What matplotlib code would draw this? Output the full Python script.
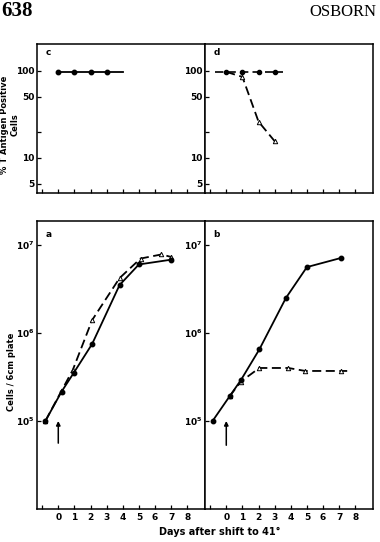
import matplotlib
matplotlib.use("Agg")
import matplotlib.pyplot as plt
from matplotlib.ticker import FixedLocator, NullLocator, NullFormatter

# --- Data ---
days_ticks = [-1, 0, 1, 2, 3, 4, 5, 6, 7, 8]
day_labels = ["", "0", "1", "2", "3", "4", "5", "6", "7", "8"]

# panel c: % T antigen positive, control
c_days = [0, 1, 2, 3, 4]
c_pct = [97, 97, 97, 97, 97]

# panel d: % T antigen positive, shifted
d_circ_days = [-0.7, 0, 1, 2, 3, 3.5]
d_circ_pct = [97, 97, 97, 97, 97, 97]
d_tri_days = [0, 1, 2, 3]
d_tri_pct = [97, 85, 26, 15.5]

# panel a: cells / 6cm plate
a_circ_days = [-0.8, 0.2, 0.95, 2.1, 3.8, 5.0, 7.0]
a_circ_cells = [1.0e5, 2.15e5, 3.5e5, 7.5e5, 3.5e6, 6.0e6, 6.8e6]
a_tri_days = [-0.8, 0.2, 0.9, 2.1, 3.8, 5.1, 6.4, 7.0]
a_tri_cells = [1.0e5, 2.2e5, 3.8e5, 1.4e6, 4.2e6, 7.0e6, 7.8e6, 7.3e6]

# panel b: cells / 6cm plate
b_circ_days = [-0.85, 0.2, 0.9, 2.05, 3.7, 5.0, 7.1]
b_circ_cells = [1.0e5, 1.9e5, 2.9e5, 6.5e5, 2.5e6, 5.6e6, 7.1e6]
b_tri_days = [0.2, 0.9, 2.05, 3.85, 4.9, 7.1, 7.5]
b_tri_cells = [1.9e5, 2.8e5, 4.0e5, 4.0e5, 3.7e5, 3.7e5, 3.7e5]

pct_ticks = [5, 10, 20, 50, 100]
pct_labels = ["5", "10", "", "50", "100"]
cell_ticks = [1e5, 1e6, 1e7]
cell_labels = [r"$\mathbf{10^5}$", r"$\mathbf{10^6}$", r"$\mathbf{10^7}$"]

XLIM = (-1.32, 9.1)
TICKFONT = dict(fontsize=6.5, fontweight="bold")

plt.rcParams.update({
    "font.family": "DejaVu Sans",
    "axes.linewidth": 1.1,
    "xtick.direction": "in",
    "ytick.direction": "in",
    "xtick.major.size": 3,
    "ytick.major.size": 3,
    "xtick.major.pad": 3,
    "ytick.major.pad": 2,
})

fig = plt.figure(figsize=(3.8, 5.42), dpi=100)
W, H = 380, 542


def add_axes(x0, y0, x1, y1):
    return fig.add_axes([x0 / W, 1 - y1 / H, (x1 - x0) / W, (y1 - y0) / H])


ax_c = add_axes(37, 44, 205, 193)
ax_d = add_axes(205, 44, 373, 193)
ax_a = add_axes(37, 221, 205, 509)
ax_b = add_axes(205, 221, 373, 509)


def style(ax, top):
    ax.set_yscale("log")
    ax.set_xlim(*XLIM)
    ax.xaxis.set_major_locator(FixedLocator(days_ticks))
    ax.xaxis.set_minor_locator(NullLocator())
    if top:
        ax.set_ylim(3.93, 203)
        ax.set_yticks(pct_ticks)
        ax.set_yticklabels(pct_labels, **TICKFONT)
        ax.set_xticklabels([])
    else:
        ax.set_ylim(1e4, 1.87e7)
        ax.set_yticks(cell_ticks)
        ax.set_yticklabels(cell_labels, fontsize=6.5)
        ax.set_xticklabels(day_labels, **TICKFONT)
    ax.yaxis.set_minor_locator(NullLocator())
    ax.yaxis.set_minor_formatter(NullFormatter())
    ax.tick_params(width=0.9, colors="black")


for ax, top in [(ax_c, True), (ax_d, True), (ax_a, False), (ax_b, False)]:
    style(ax, top)

circ = dict(color="black", marker="o", markersize=3.2, lw=1.3)
tri = dict(color="black", marker="^", markersize=3.2, markerfacecolor="white",
           markeredgewidth=0.7, lw=1.3, dashes=(5, 2.5))

# panel c
ax_c.plot(c_days, c_pct, markevery=[0, 1, 2, 3], **circ)

# panel d
ax_d.plot(d_circ_days, d_circ_pct, color="black", marker="o", markersize=3,
          markevery=[1, 2, 3, 4], lw=1.2, dashes=(5, 2.5))
ax_d.plot(d_tri_days, d_tri_pct, markevery=[1, 2, 3], **tri)

# panel a
ax_a.plot(a_tri_days, a_tri_cells, **tri)
ax_a.plot(a_circ_days, a_circ_cells, **circ)

# panel b
ax_b.plot(b_tri_days, b_tri_cells, markevery=[0, 1, 2, 3, 4, 5], **tri)
ax_b.plot(b_circ_days, b_circ_cells, **circ)

# arrows marking the shift
for ax, tail in [(ax_a, 5.6e4), (ax_b, 5.3e4)]:
    ax.annotate("", xy=(0, 1.0e5), xytext=(0, tail),
                arrowprops=dict(arrowstyle="-|>", color="black", lw=1.1,
                                mutation_scale=6, shrinkA=0, shrinkB=0))

# panel letters
for ax, letter in [(ax_c, "c"), (ax_d, "d"), (ax_a, "a"), (ax_b, "b")]:
    ax.text(0.05, 0.97, letter, transform=ax.transAxes, ha="left", va="top",
            fontsize=6.5, fontweight="bold")

# axis labels
fig.text(10 / W, 1 - 125 / H, "% T Antigen Positive\nCells", rotation=90,
         ha="center", va="center", fontsize=6, fontweight="bold",
         linespacing=1.3, multialignment="center")
fig.text(12 / W, 1 - 372 / H, "Cells / 6cm plate", rotation=90,
         ha="center", va="center", fontsize=6, fontweight="bold")
fig.text(220 / W, 1 - 532 / H, "Days after shift to 41°", ha="center",
         va="center", fontsize=7, fontweight="bold")

# page header
fig.text(1 / W, 1 - 11 / H, "638", ha="left", va="center", fontsize=15,
         family="Liberation Serif", fontweight="bold")
fig.text(376 / W, 1 - 12 / H, "OSBORN", ha="right", va="center",
         fontsize=12, family="Liberation Serif")

fig.savefig("out.png", dpi=100)
